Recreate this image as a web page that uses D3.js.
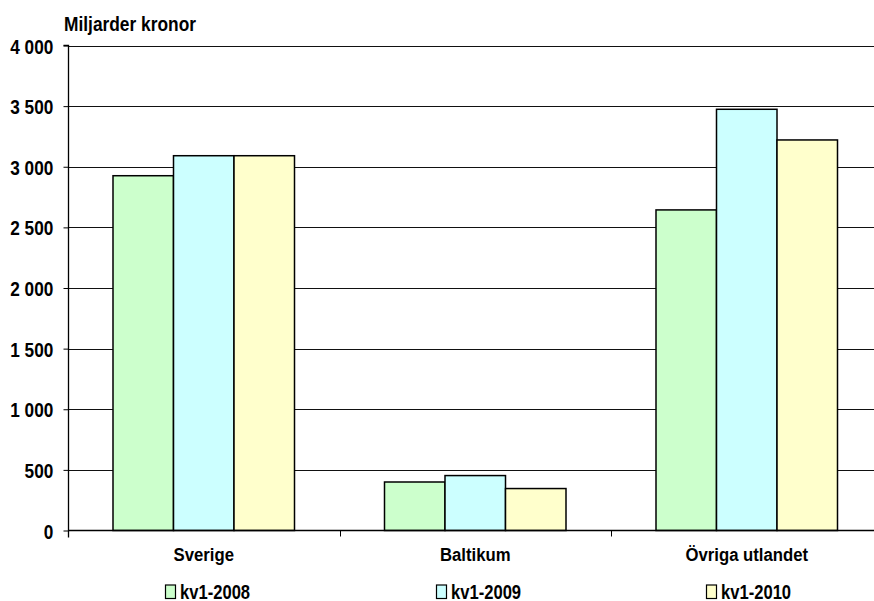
<!DOCTYPE html>
<html>
<head>
<meta charset="utf-8">
<script src="https://cdn.jsdelivr.net/npm/d3@7"></script>
<style>
  html, body { margin: 0; padding: 0; background: #fff; }
  svg { display: block; }
  text { font-family: "Liberation Sans", Arial, sans-serif; font-weight: bold; fill: #000; }
</style>
</head>
<body>
<svg id="chart" width="874" height="601"></svg>
<script>
const categories = ["Sverige", "Baltikum", "Övriga utlandet"];
const seriesNames = ["kv1-2008", "kv1-2009", "kv1-2010"];
const kv1_2008 = [2926, 400, 2644];
const kv1_2009 = [3091, 453, 3474];
const kv1_2010 = [3091, 346, 3221];
const seriesValues = [kv1_2008, kv1_2009, kv1_2010];
const seriesColors = ["#ccffcc", "#ccffff", "#ffffcc"];
const yTicks = [0, 500, 1000, 1500, 2000, 2500, 3000, 3500, 4000];
const yTitle = "Miljarder kronor";

const svg = d3.select("#chart");
const mLeft = 68, mTop = 45.5, mBottom = 530.5, mRight = 882.5;

const y = d3.scaleLinear().domain([0, 4000]).range([mBottom, mTop]);
const x0 = d3.scaleBand().domain(categories).range([mLeft, mRight]).paddingInner(0).paddingOuter(0);
const x1 = d3.scaleBand().domain(seriesNames).range([45, x0.bandwidth() - 45]).padding(0);

const fmt = v => v === 0 ? "0" : d3.format(",")(v).replace(/,/g, " ");

// gridlines
svg.append("g").selectAll("line").data(yTicks.filter(d => d > 0)).join("line")
  .attr("x1", mLeft).attr("x2", 874)
  .attr("y1", d => Math.round(y(d)) + 0.5).attr("y2", d => Math.round(y(d)) + 0.5)
  .attr("stroke", "#111").attr("stroke-width", 1);

// bars
const groups = svg.append("g").selectAll("g").data(categories).join("g")
  .attr("transform", d => `translate(${x0(d)},0)`);
groups.selectAll("rect").data((c, i) => seriesNames.map((s, j) => ({s, v: seriesValues[j][i], j})))
  .join("rect")
  .attr("x", d => x1(d.s))
  .attr("width", x1.bandwidth())
  .attr("y", d => y(d.v))
  .attr("height", d => y(0) - y(d.v))
  .attr("fill", d => seriesColors[d.j])
  .attr("stroke", "#000").attr("stroke-width", 1.5);

// y axis
const yAxis = d3.axisLeft(y).tickValues(yTicks).tickFormat(fmt).tickSize(5).tickPadding(10);
const ga = svg.append("g").attr("transform", `translate(${mLeft + 0.5},0)`).call(yAxis);
ga.select(".domain").attr("d", `M-5,${mTop}H0V${mBottom + 7}`).attr("stroke", "#000").attr("stroke-width", 1.3);
ga.selectAll(".tick line").attr("stroke", "#000");
ga.selectAll("text")
  .attr("font-size", 21).attr("font-family", null)
  .attr("x", null).attr("dy", null)
  .attr("transform", "translate(-15.2,7.5) scale(0.82,1)");

// x axis
const xAxis = d3.axisBottom(x0).tickSize(0).tickPadding(0);
const gx = svg.append("g").attr("transform", `translate(0,${mBottom})`).call(xAxis);
gx.select(".domain").attr("d", `M${mLeft},0H874`).attr("stroke", "#000").attr("stroke-width", 1.6);
gx.selectAll("text")
  .attr("font-size", 19).attr("font-family", null)
  .attr("y", null).attr("dy", null)
  .attr("transform", "translate(0,30.5) scale(0.88,1)");
gx.append("g").selectAll("line").data(categories.slice(1)).join("line")
  .attr("x1", d => Math.round(x0(d)) + 0.5).attr("x2", d => Math.round(x0(d)) + 0.5)
  .attr("y1", 0).attr("y2", 6).attr("stroke", "#000");

// title
svg.append("text").attr("font-size", 19.5)
  .attr("transform", "translate(64,30.5) scale(0.89,1)").text(yTitle);

// legend
const legendX = [165, 436, 706];
const lg = svg.append("g").selectAll("g").data(seriesNames).join("g")
  .attr("transform", (d, i) => `translate(${legendX[i]},0)`);
lg.append("rect").attr("x", 0.5).attr("y", 585).attr("width", 10).attr("height", 13.5)
  .attr("fill", (d, i) => seriesColors[i]).attr("stroke", "#000").attr("stroke-width", 1.2);
lg.append("text").attr("font-size", 20)
  .attr("transform", "translate(15,599) scale(0.83,1)").text(d => d);
</script>
</body>
</html>
